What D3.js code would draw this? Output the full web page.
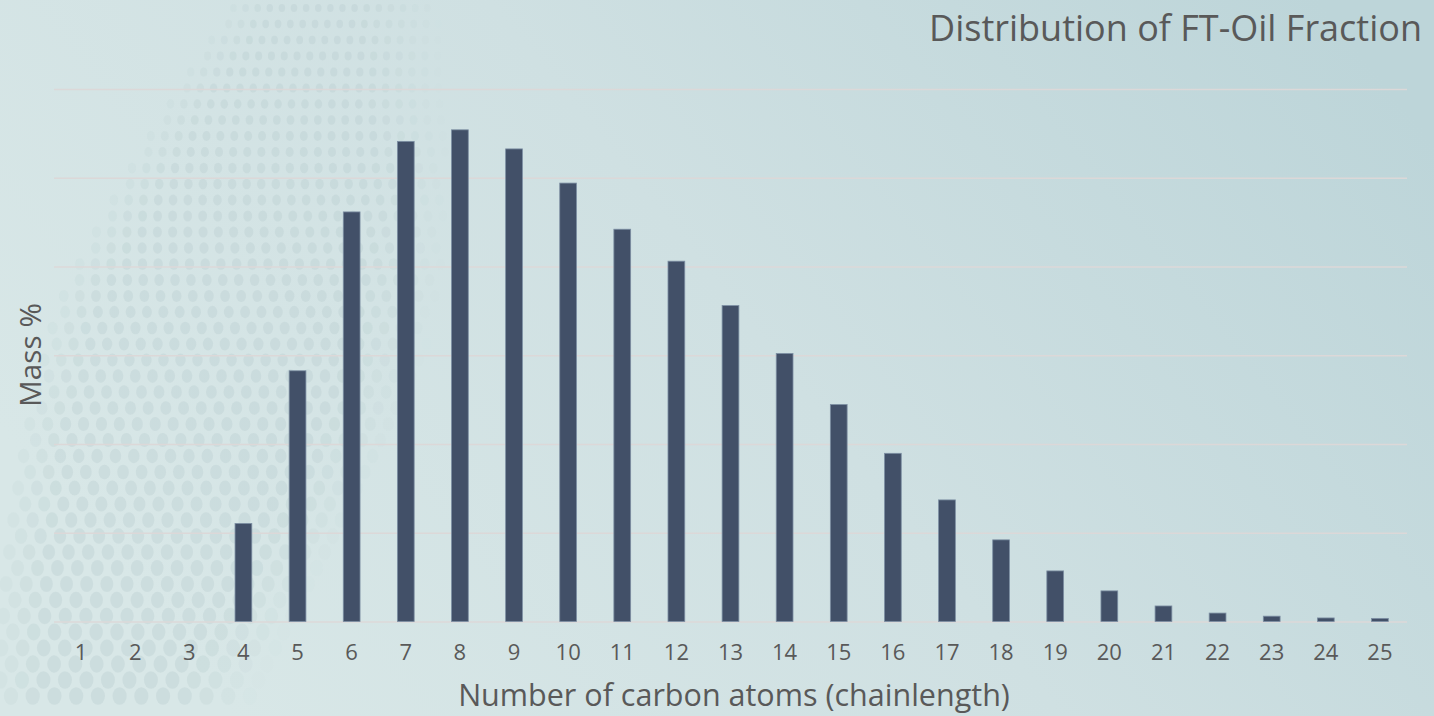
<!DOCTYPE html>
<html>
<head>
<meta charset="utf-8">
<script src="https://cdn.jsdelivr.net/npm/d3@7"></script>
<style>
  html, body { margin: 0; padding: 0; overflow: hidden; }
  text { font-family: "Open Sans", "Noto Sans", sans-serif; fill: #595959; }
</style>
</head>
<body>
<div id="chart-area"></div>
<script>
// data
const carbonAtoms = ["1", "2", "3", "4", "5", "6", "7", "8", "9", "10", "11", "12", "13",
    "14", "15", "16", "17", "18", "19", "20", "21", "22", "23", "24", "25"];
const massPercent = [0, 0, 0, 2.21, 5.65, 9.23, 10.82, 11.08, 10.65, 9.88, 8.84, 8.12, 7.12,
    6.04, 4.89, 3.79, 2.74, 1.84, 1.14, 0.69, 0.35, 0.19, 0.12, 0.08, 0.07];
const gridValues = [0, 2, 4, 6, 8, 10, 12];

const titleText = "Distribution of FT-Oil Fraction";
const xTitle = "Number of carbon atoms (chainlength)";
const yTitle = "Mass %";

const W = 1434;
const H = 716;
const margin = { top: 89, right: 27, bottom: 94.5, left: 54 };
const width = W - margin.left - margin.right;
const height = H - margin.top - margin.bottom;

const svg = d3.select("#chart-area")
    .append("svg")
    .attr("width", W)
    .attr("height", H);

// background
const defs = svg.append("defs");
const grad = defs.append("linearGradient")
    .attr("id", "bg")
    .attr("x1", "0").attr("y1", "0.6")
    .attr("x2", "1").attr("y2", "0.2");
grad.append("stop").attr("offset", "0").attr("stop-color", "#d8e7e7");
grad.append("stop").attr("offset", "0.5").attr("stop-color", "#cfe0e2");
grad.append("stop").attr("offset", "1").attr("stop-color", "#bdd5d9");

svg.append("rect")
    .attr("width", W)
    .attr("height", H)
    .attr("fill", "url(#bg)");

// faint dotted decoration on the left
const dots = svg.append("g").attr("class", "dots");
for (let row = 0; row < 44; row++) {
    const y = 8 + row * 16;
    const t = y / H;
    const r = 4 + t * 5;
    const step = 12 + t * 10;
    const xRight = 260 + 120 * Math.sin(Math.PI * Math.min(t * 1.05, 1));
    const xLeft = Math.max(0, 60 - t * 140);
    for (let x = xLeft + (row % 2) * step / 2; x < xRight; x += step) {
        const fade = Math.min(1, (xRight - x) / 80) * Math.min(1, (x - xLeft + 20) / 60);
        dots.append("ellipse")
            .attr("cx", x + (H - y) * 0.25 * (1 - t))
            .attr("cy", y)
            .attr("rx", r * 0.8)
            .attr("ry", r)
            .attr("fill", "#b6cccd")
            .attr("opacity", 0.35 * fade);
    }
}

const g = svg.append("g")
    .attr("transform", "translate(" + margin.left + ", " + margin.top + ")");

const x = d3.scaleBand()
    .domain(carbonAtoms)
    .range([0, width])
    .paddingInner(0.69)
    .paddingOuter(0.345);

const y = d3.scaleLinear()
    .domain([0, 12])
    .range([height, 0]);

// gridlines
const grid = d3.axisLeft(y)
    .tickValues(gridValues)
    .tickSize(-width)
    .tickFormat("");
g.append("g")
    .attr("class", "grid")
    .call(grid)
    .call(s => s.select(".domain").remove())
    .selectAll("line")
    .attr("stroke", "#dcd8d8")
    .attr("stroke-width", 1.5);

// bars
g.selectAll("rect.bar")
    .data(massPercent)
    .enter()
    .append("rect")
    .attr("class", "bar")
    .attr("x", (d, i) => x(carbonAtoms[i]))
    .attr("y", d => y(d))
    .attr("width", x.bandwidth())
    .attr("height", d => height - y(d))
    .attr("fill", "#425068")
    .attr("stroke", "#7d8fa3")
    .attr("stroke-width", d => d > 0 ? 0.8 : 0);

// x axis labels
const bottomAxis = d3.axisBottom(x)
    .tickSize(0)
    .tickPadding(23);
g.append("g")
    .attr("class", "bottom axis")
    .attr("transform", "translate(0, " + height + ")")
    .call(bottomAxis)
    .call(s => s.select(".domain").remove())
    .selectAll("text")
    .attr("font-size", "22px")
    .attr("font-family", "Open Sans")
    .style("fill", "#595959");

// fit a text to a target width
const fitText = (sel, target) => {
    const base = parseFloat(sel.attr("font-size"));
    const len = sel.node().getComputedTextLength();
    sel.attr("font-size", (base * target / len).toFixed(2) + "px");
};

svg.append("text")
    .attr("x", 1422)
    .attr("y", 41)
    .attr("text-anchor", "end")
    .attr("font-size", "36px")
    .text(titleText);

const xLabel = svg.append("text")
    .attr("x", 734)
    .attr("y", 706)
    .attr("text-anchor", "middle")
    .attr("font-size", "28px")
    .text(xTitle);
fitText(xLabel, 552);

const yLabel = svg.append("text")
    .attr("transform", "translate(41, 355) rotate(-90)")
    .attr("text-anchor", "middle")
    .attr("font-size", "28px")
    .text(yTitle);
fitText(yLabel, 104);
</script>
</body>
</html>
